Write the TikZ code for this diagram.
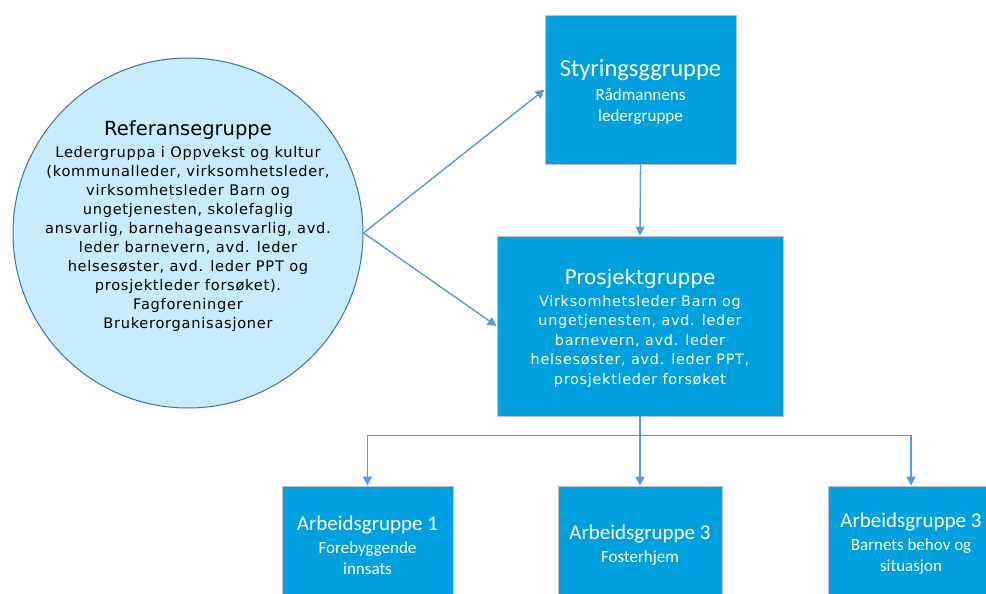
\documentclass[tikz,border=0pt]{standalone}
\usepackage{fontspec}
\usetikzlibrary{arrows.meta}
\newfontfamily\verdsp[LetterSpace=5]{DejaVu Sans}
\newfontfamily\verd{DejaVu Sans}
\newfontfamily\calib{Carlito}
\definecolor{boxblue}{RGB}{0,160,222}
\definecolor{refblue}{RGB}{198,236,253}
\definecolor{refborder}{RGB}{65,113,156}
\definecolor{arrowc}{RGB}{91,155,213}
\definecolor{boxedge}{RGB}{195,195,195}
\begin{document}
\begin{tikzpicture}[x=1pt,y=-1pt,
  bluebox/.style={rectangle, fill=boxblue, draw=boxedge, line width=0.8pt, inner sep=0pt},
  arr/.style={draw=arrowc, line width=1.4pt, -{Triangle[length=9pt,width=9pt]}},
  whitetext/.style={text=white, align=center, inner sep=0pt},
  calbody/.style={font=\calib\fontsize{17}{21}\selectfont}]
\clip (0,0) rectangle (986,594);
\fill[white] (0,0) rectangle (986,594);
% reference group circle
\node[circle, minimum size=350pt, fill=refblue, draw=refborder, line width=1pt, inner sep=0pt] (ref) at (188,233) {};
\node[align=center, inner sep=0pt, font=\verdsp\fontsize{14.6}{19}\selectfont] (reft) at (188,226)
 {\verd\fontsize{19.5}{22}\selectfont Referansegruppe\\[3pt]
  Ledergruppa i Oppvekst og kultur\\
  (kommunalleder, virksomhetsleder,\\
  virksomhetsleder Barn og\\
  ungetjenesten, skolefaglig\\
  ansvarlig, barnehageansvarlig, avd.\\
  leder barnevern, avd. leder\\
  helsesøster, avd. leder PPT og\\
  prosjektleder forsøket).\\
  Fagforeninger\\
  Brukerorganisasjoner};
% steering group
\node[bluebox, minimum width=191pt, minimum height=149pt] (sty) at (640.5,89.5) {};
\node[whitetext, calbody] (styt) at (640.5,92)
 {\fontsize{24.5}{28}\selectfont Styringsggruppe\\[3.6pt]
  Rådmannens\\ ledergruppe};
% project group
\node[bluebox, minimum width=286pt, minimum height=180pt] (pro) at (640,326) {};
\node[whitetext, font=\verdsp\fontsize{14.4}{19.5}\selectfont] (prot) at (640,328)
 {\verd\fontsize{20}{23}\selectfont Prosjektgruppe\\[2.5pt]
  Virksomhetsleder Barn og\\
  ungetjenesten, avd. leder\\
  barnevern, avd. leder\\
  helsesøster, avd. leder PPT,\\
  prosjektleder forsøket};
% working groups
\node[bluebox, minimum width=171pt, minimum height=160pt] (ag1) at (367.5,566) {};
\node[bluebox, minimum width=164pt, minimum height=160pt] (ag2) at (640,566) {};
\node[bluebox, minimum width=166pt, minimum height=160pt] (ag3) at (911,566) {};
\node[whitetext, calbody] (ag1t) at (367.5,545)
 {\fontsize{21}{24}\selectfont Arbeidsgruppe 1\\[2pt]
  Forebyggende\\ innsats};
\node[whitetext, calbody] (ag2t) at (640,545)
 {\fontsize{21}{24}\selectfont Arbeidsgruppe 3\\[2pt]
  Fosterhjem};
\node[whitetext, calbody] (ag3t) at (911,544)
 {\fontsize{21}{24}\selectfont Arbeidsgruppe 3\\[2pt]
  Barnets behov og\\ situasjon};
% connectors
\draw[arr] (ref.east) -- (sty.west);
\draw[arr] (ref.east) -- (pro.west);
\draw[arr] (sty.south) -- (pro.north);
\draw[arr] (pro.south) -- (ag2.north);
\draw[arr] (pro.south) -- ++(0,19) -| (ag1.north);
\draw[arr] (pro.south) -- ++(0,19) -| (ag3.north);
\end{tikzpicture}
\end{document}
